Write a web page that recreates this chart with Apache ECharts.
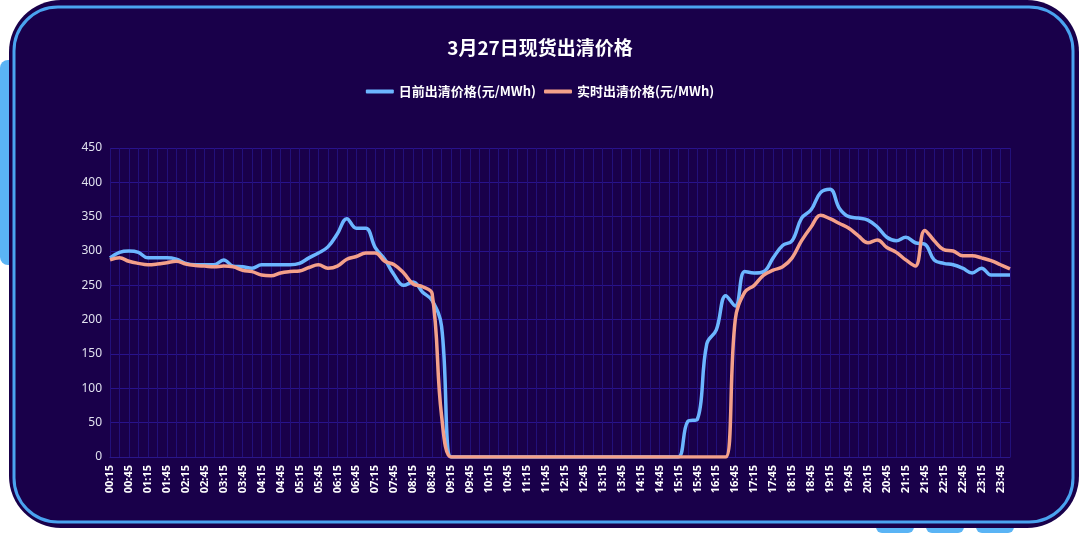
<!DOCTYPE html>
<html>
<head>
<meta charset="utf-8">
<script src="https://cdn.jsdelivr.net/npm/echarts@6/dist/echarts.min.js"></script>
<style>
html,body{margin:0;padding:0;background:#fff;}
#chart{width:1080px;height:533px;}
</style>
</head>
<body>
<div id="chart"></div>
<script>
// 时间点 00:15 ~ 24:00
var times = [];
for (var h = 0; h < 24; h++) {
  ['15', '30', '45'].forEach(function (m) { times.push((h < 10 ? '0' : '') + h + ':' + m); });
  times.push((h + 1 < 10 ? '0' : '') + (h + 1) + ':00');
}
var dayAhead = [290,298,300,298,290,290,290,288,282,280,280,280,287,278,277,275,280,280,280,280,
  282,290,297,306,325,347,333,333,305,288,265,250,255,240,228,190,
  0,0,0,0,0,0,0,0,0,0,0,0,0,0,0,0,0,0,0,0,0,0,0,0,0,
  52,55,165,185,235,220,270,268,270,290,308,315,348,360,385,390,362,350,348,345,335,320,315,320,312,310,287,282,280,275,268,275,265,265,265];
var realTime = [287,290,285,282,280,281,283,285,281,279,278,277,278,277,272,270,265,264,268,270,
  271,276,280,275,278,288,292,297,297,285,280,268,252,248,238,60,
  0,0,0,0,0,0,0,0,0,0,0,0,0,0,0,0,0,0,0,0,0,0,0,0,0,0,0,0,0,0,
  200,240,250,265,272,277,290,315,335,352,347,340,333,322,312,316,305,298,287,278,330,315,302,300,293,293,290,286,280,274];
var yTicks = [0, 450, 50];

var myChart = echarts.init(document.getElementById('chart'));
option = {
  backgroundColor: '#ffffff',
  graphic: [
    {type: 'rect', shape: {x: 0, y: 60, width: 30, height: 205, r: 8}, style: {fill: '#5ab4f5'}},
    {type: 'rect', shape: {x: 876, y: 515, width: 38, height: 18, r: 6}, style: {fill: '#5ab4f5'}},
    {type: 'rect', shape: {x: 926, y: 515, width: 38, height: 18, r: 6}, style: {fill: '#5ab4f5'}},
    {type: 'rect', shape: {x: 976, y: 515, width: 38, height: 18, r: 6}, style: {fill: '#5ab4f5'}},
    {type: 'rect', shape: {x: 9, y: 0, width: 1070, height: 528, r: 52}, style: {fill: '#19004a'}},
    {type: 'rect', shape: {x: 14, y: 7, width: 1059, height: 515, r: 44}, style: {fill: '#19004a', stroke: '#4aa3f0', lineWidth: 3}}
  ],
  title: {
    text: '3月27日现货出清价格',
    left: 'center', top: 33,
    textStyle: {color: '#ffffff', fontSize: 19, fontWeight: 'bold', fontFamily: 'Noto Sans CJK SC'}
  },
  legend: {
    top: 80, left: 'center', itemWidth: 28, itemHeight: 4, itemGap: 8,
    icon: 'roundRect',
    textStyle: {color: '#ffffff', fontSize: 13, fontWeight: 'bold', fontFamily: 'Noto Sans CJK SC'},
    data: ['日前出清价格(元/MWh)', '实时出清价格(元/MWh)']
  },
  grid: {left: 110, right: 70, top: 148, bottom: 76},
  xAxis: {
    type: 'category', boundaryGap: false, data: times,
    axisLine: {lineStyle: {color: '#2a168a'}},
    axisTick: {show: false},
    axisLabel: {color: '#ffffff', rotate: 90, interval: 1, fontSize: 11, fontWeight: 'bold', fontFamily: 'Noto Sans'},
    splitLine: {show: true, interval: 0, lineStyle: {color: '#22107a', width: 1}}
  },
  yAxis: {
    type: 'value', min: yTicks[0], max: yTicks[1], interval: yTicks[2],
    axisLine: {show: false}, axisTick: {show: false},
    axisLabel: {color: '#e0e0ee', fontSize: 12, fontFamily: 'Noto Sans'},
    splitLine: {lineStyle: {color: '#28128c', width: 1}}
  },
  series: [
    {
      name: '日前出清价格(元/MWh)', type: 'line', smooth: 0.4, showSymbol: false,
      itemStyle: {color: '#6cb6ff'}, lineStyle: {color: '#6cb6ff', width: 3.5},
      data: dayAhead
    },
    {
      name: '实时出清价格(元/MWh)', type: 'line', smooth: 0.4, showSymbol: false,
      itemStyle: {color: '#f4a08a'}, lineStyle: {color: '#f4a08a', width: 3.5},
      data: realTime
    }
  ]
};
myChart.setOption(option);
</script>
</body>
</html>
